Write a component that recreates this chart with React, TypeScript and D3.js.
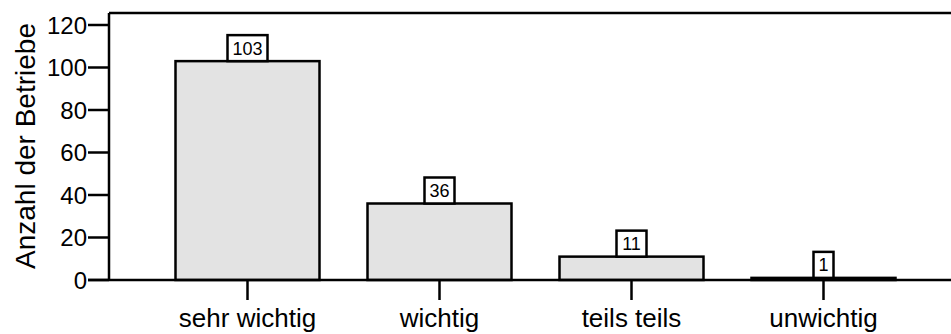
import React from "react";
import * as d3 from "d3";

const categories = ["sehr wichtig", "wichtig", "teils teils", "unwichtig"];
const counts = [103, 36, 11, 1];
const yTicks = [0, 20, 40, 60, 80, 100, 120];
const yTitle = "Anzahl der Betriebe";

const W = 951;
const H = 334;
const left = 109;
const top = 13;
const baseY = 280;
const font = "Arial, 'Liberation Sans', Helvetica, sans-serif";
const sw = 2.5;

export default function App() {
  const y = d3.scaleLinear().domain([0, 120]).range([baseY, 25]);
  const x = d3
    .scaleBand<string>()
    .domain(categories)
    .range([151.5, 919.5])
    .paddingInner(0.25)
    .paddingOuter(0.125);
  const bw = x.bandwidth();

  return (
    <svg width={W} height={H} style={{ position: "absolute", left: 0, top: 0, background: "#fff" }}>
      {/* bars */}
      {categories.map((c, i) => {
        const x0 = x(c)!;
        const yv = y(counts[i]);
        return (
          <rect
            key={c}
            x={x0}
            y={yv}
            width={bw}
            height={Math.max(baseY - yv, 0)}
            fill="#e3e3e3"
            stroke="#000"
            strokeWidth={sw}
          />
        );
      })}
      {/* frame */}
      <line x1={left} x2={W} y1={top} y2={top} stroke="#000" strokeWidth={sw} />
      <line x1={left} x2={left} y1={top} y2={baseY} stroke="#000" strokeWidth={sw} />
      <line x1={88} x2={W} y1={baseY} y2={baseY} stroke="#000" strokeWidth={sw} />
      {/* y ticks */}
      {yTicks.map((t) => (
        <g key={t}>
          <line x1={88} x2={left} y1={y(t)} y2={y(t)} stroke="#000" strokeWidth={sw} />
          <text
            x={87}
            y={y(t)}
            dy="0.36em"
            textAnchor="end"
            fontFamily={font}
            fontSize={24}
            fill="#000"
          >
            {t}
          </text>
        </g>
      ))}
      <text
        transform={`translate(35,${146}) rotate(-90)`}
        textAnchor="middle"
        fontFamily={font}
        fontSize={28}
        fill="#000"
      >
        {yTitle}
      </text>
      {/* category ticks and labels */}
      {categories.map((c) => {
        const cx = x(c)! + bw / 2;
        return (
          <g key={c}>
            <line x1={cx} x2={cx} y1={baseY} y2={300} stroke="#000" strokeWidth={sw} />
            <text
              x={cx}
              y={327}
              textAnchor="middle"
              fontFamily={font}
              fontSize={26}
              fill="#000"
            >
              {c}
            </text>
          </g>
        );
      })}
      {/* value labels */}
      {categories.map((c, i) => {
        const cx = x(c)! + bw / 2;
        const label = String(counts[i]);
        const bwid = label.length * 10 + 10;
        const yv = y(counts[i]);
        const bh = 26;
        return (
          <g key={c}>
            <rect
              x={cx - bwid / 2}
              y={yv - bh}
              width={bwid}
              height={bh}
              fill="#fff"
              stroke="#000"
              strokeWidth={sw}
            />
            <text
              x={cx}
              y={yv - bh / 2}
              dy="0.36em"
              textAnchor="middle"
              fontFamily={font}
              fontSize={18}
              fill="#000"
            >
              {label}
            </text>
          </g>
        );
      })}
    </svg>
  );
}
